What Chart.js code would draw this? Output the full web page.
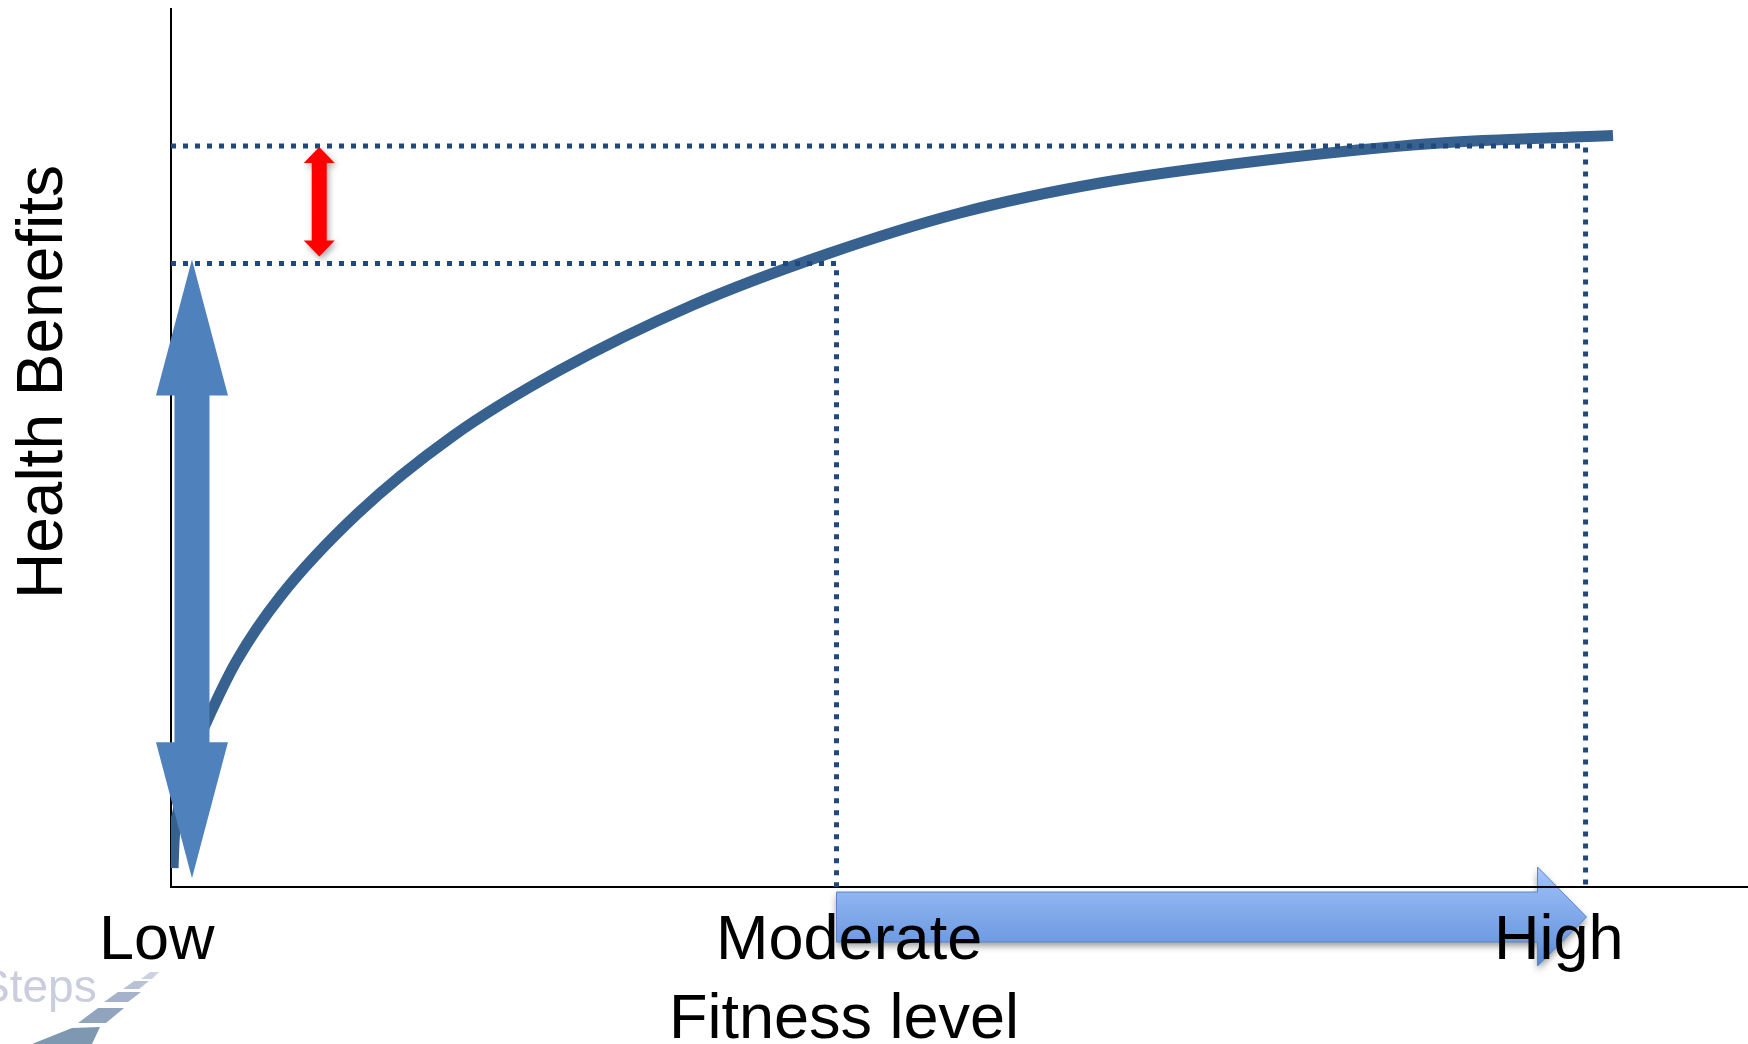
<!DOCTYPE html>
<html>
<head>
<meta charset="utf-8">
<title>Health Benefits vs Fitness level</title>
<script src="https://cdn.jsdelivr.net/npm/chart.js@4.4.1/dist/chart.umd.min.js"></script>
<style>
  html, body { margin: 0; padding: 0; background: #fff; }
  #wrap { width: 1748px; height: 1044px; position: relative; }
</style>
</head>
<body>
<div id="wrap"><canvas id="fitnessChart" width="1748" height="1044"></canvas></div>
<script>
// Health benefit curve: fitness level (x, 0-100) against health benefits (y, 0-100)
const curveX = [0.13, 0.20, 0.46, 0.89, 1.50, 2.60, 4.19, 6.91, 11.80, 17.88, 24.67, 33.10, 41.60, 50.03, 58.91, 69.50, 80.03, 91.44];
const curveY = [2.16, 5.35, 8.77, 12.19, 15.60, 20.16, 25.85, 33.03, 42.48, 51.37, 58.88, 66.29, 72.10, 76.77, 80.18, 82.80, 84.68, 85.59];

// Moderate and high fitness reference levels (dotted guides)
const levelX = [42.2, 89.7];
const levelY = [71.0, 84.4];

// x axis labels and where they sit
const tickText = ['Low', 'Moderate', 'High'];
const tickPos = [-0.9, 43.0, 88.0];

// bottom of the big "benefit" arrow
const benefitBase = 1.0;

const FONT = '"Liberation Sans", Arial, Helvetica, sans-serif';

function guide(i) {
    return [
        { x: 0, y: levelY[i] },
        { x: levelX[i], y: levelY[i] },
        { x: levelX[i], y: 0 }
    ];
}

function doubleArrow(ctx, cx, yTop, yBottom, shaftW, headW, headLen) {
    ctx.beginPath();
    ctx.moveTo(cx, yTop);
    ctx.lineTo(cx + headW / 2, yTop + headLen);
    ctx.lineTo(cx + shaftW / 2, yTop + headLen);
    ctx.lineTo(cx + shaftW / 2, yBottom - headLen);
    ctx.lineTo(cx + headW / 2, yBottom - headLen);
    ctx.lineTo(cx, yBottom);
    ctx.lineTo(cx - headW / 2, yBottom - headLen);
    ctx.lineTo(cx - shaftW / 2, yBottom - headLen);
    ctx.lineTo(cx - shaftW / 2, yTop + headLen);
    ctx.lineTo(cx - headW / 2, yTop + headLen);
    ctx.closePath();
    ctx.fill();
}

const arrowsPlugin = {
    id: 'arrows',
    beforeDraw(chart) {
        const ctx = chart.ctx;
        const xs = chart.scales.x, ys = chart.scales.y;
        const axisY = ys.getPixelForValue(0);
        const x0 = xs.getPixelForValue(levelX[0]);
        const tip = xs.getPixelForValue(levelX[1]) + 1;
        const headBase = tip - 49;

        // wide arrow under the axis, moderate -> high
        ctx.save();
        const grad = ctx.createLinearGradient(0, axisY - 20, 0, axisY + 79);
        grad.addColorStop(0, '#a8c7fa');
        grad.addColorStop(0.25, '#90b5f2');
        grad.addColorStop(0.75, '#6e9be2');
        grad.addColorStop(1, '#5585d0');
        ctx.beginPath();
        ctx.moveTo(x0, axisY + 5);
        ctx.lineTo(headBase, axisY + 5);
        ctx.lineTo(headBase, axisY - 20);
        ctx.lineTo(tip, axisY + 30);
        ctx.lineTo(headBase, axisY + 79);
        ctx.lineTo(headBase, axisY + 55);
        ctx.lineTo(x0, axisY + 55);
        ctx.closePath();
        ctx.shadowColor = 'rgba(0,0,0,0.4)';
        ctx.shadowBlur = 7;
        ctx.shadowOffsetY = 4;
        ctx.fillStyle = grad;
        ctx.fill();
        ctx.shadowColor = 'transparent';
        ctx.strokeStyle = '#5b87c5';
        ctx.lineWidth = 1;
        ctx.stroke();
        ctx.restore();

        // "Steps" mark in the bottom-left corner
        ctx.save();
        ctx.fillStyle = '#c9cddd';
        ctx.font = '300 46px ' + FONT;
        ctx.textBaseline = 'alphabetic';
        ctx.fillText('Steps', -21, 1002);
        const stripes = [
            ['#cdd2e2', [[141, 979], [150, 972], [159, 972], [152, 979]]],
            ['#b9c1d6', [[123, 989], [134, 981], [149, 981], [139, 989]]],
            ['#a6b2ca', [[104, 1002], [118, 992], [141, 992], [128, 1002]]],
            ['#91a4be', [[78, 1023], [98, 1008], [124, 1008], [106, 1023]]],
            ['#7e98b2', [[32, 1044], [72, 1028], [100, 1027], [92, 1044]]]
        ];
        stripes.forEach(([col, pts]) => {
            ctx.fillStyle = col;
            ctx.beginPath();
            pts.forEach((p, i) => i ? ctx.lineTo(p[0], p[1]) : ctx.moveTo(p[0], p[1]));
            ctx.closePath();
            ctx.fill();
        });
        ctx.restore();
    },
    afterDatasetsDraw(chart) {
        const ctx = chart.ctx;
        const xs = chart.scales.x, ys = chart.scales.y;

        // big benefit arrow from zero up to the moderate level
        ctx.save();
        ctx.fillStyle = '#4f81bd';
        doubleArrow(ctx, xs.getPixelForValue(1.33),
            ys.getPixelForValue(levelY[0]) - 4, ys.getPixelForValue(benefitBase),
            35, 72, 136);
        ctx.restore();

        // small red arrow: the extra gain from moderate to high
        ctx.save();
        ctx.fillStyle = '#ff0000';
        ctx.shadowColor = 'rgba(0,0,0,0.35)';
        ctx.shadowBlur = 6;
        ctx.shadowOffsetX = 2;
        ctx.shadowOffsetY = 3;
        doubleArrow(ctx, xs.getPixelForValue(9.4),
            ys.getPixelForValue(levelY[1]) + 1, ys.getPixelForValue(levelY[0]) - 7,
            15, 31, 16);
        ctx.restore();
    },
    afterDraw(chart) {
        const ctx = chart.ctx;
        ctx.save();
        ctx.fillStyle = '#000';
        ctx.font = '63px ' + FONT;
        ctx.textAlign = 'center';
        ctx.textBaseline = 'alphabetic';
        ctx.fillText('Fitness level', 844, 1038);
        ctx.font = '64px ' + FONT;
        ctx.translate(62, 382);
        ctx.rotate(-Math.PI / 2);
        ctx.fillText('Health Benefits', 0, 0);
        ctx.restore();
    }
};

new Chart(document.getElementById('fitnessChart'), {
    type: 'line',
    data: {
        datasets: [
            {
                label: 'Moderate',
                data: guide(0),
                borderColor: '#1f497d',
                borderWidth: 5,
                borderDash: [5, 7],
                borderCapStyle: 'butt',
                pointRadius: 0,
                tension: 0
            },
            {
                label: 'High',
                data: guide(1),
                borderColor: '#1f497d',
                borderWidth: 5,
                borderDash: [5, 7],
                borderCapStyle: 'butt',
                pointRadius: 0,
                tension: 0
            },
            {
                label: 'Health Benefits',
                data: curveX.map((x, i) => ({ x: x, y: curveY[i] })),
                borderColor: '#37618f',
                borderWidth: 11,
                borderCapStyle: 'butt',
                borderJoinStyle: 'round',
                cubicInterpolationMode: 'monotone',
                pointRadius: 0
            }
        ]
    },
    options: {
        responsive: false,
        animation: false,
        devicePixelRatio: 1,
        layout: { padding: { top: 9, left: 0, right: 0, bottom: 0 } },
        plugins: {
            legend: { display: false },
            tooltip: { enabled: false },
            title: { display: false }
        },
        scales: {
            x: {
                type: 'linear',
                min: 0,
                max: 100,
                grid: { display: false, drawTicks: false },
                border: { color: '#000', width: 2 },
                afterBuildTicks: (scale) => {
                    scale.ticks = tickPos.map(v => ({ value: v }));
                },
                afterFit: (scale) => { scale.height = 157; },
                ticks: {
                    autoSkip: false,
                    maxRotation: 0,
                    minRotation: 0,
                    padding: 17,
                    color: '#000',
                    font: { family: FONT, size: 63 },
                    callback: (value, index) => tickText[index]
                }
            },
            y: {
                type: 'linear',
                min: 0,
                max: 100,
                grid: { display: false, drawTicks: false },
                border: { color: '#000', width: 2 },
                ticks: { display: false },
                afterFit: (scale) => { scale.width = 171; }
            }
        }
    },
    plugins: [arrowsPlugin]
});
</script>
</body>
</html>
